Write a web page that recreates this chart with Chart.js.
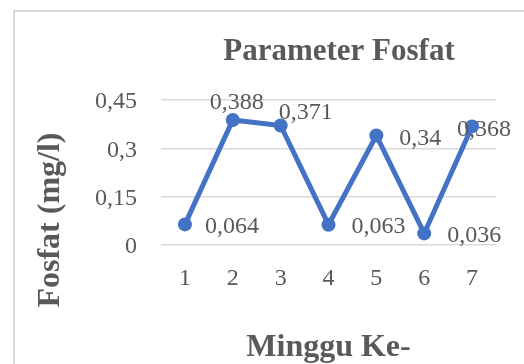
<!DOCTYPE html>
<html>
<head>
<meta charset="utf-8">
<script src="https://cdn.jsdelivr.net/npm/chart.js@4/dist/chart.umd.min.js"></script>
<style>
  html, body { margin: 0; padding: 0; background: #fff; overflow: hidden; }
  #wrap { width: 524px; height: 364px; position: relative; }
</style>
</head>
<body>
<div id="wrap"><canvas id="c" width="524" height="364"></canvas></div>
<script>
// Weekly phosphate readings (mg/l)
const weeks = ['1', '2', '3', '4', '5', '6', '7'];
const phosphate = [0.064, 0.388, 0.371, 0.063, 0.34, 0.036, 0.368];
const yTicks = [0, 0.15, 0.3, 0.45];
const chartTitle = 'Parameter Fosfat';
const xTitle = 'Minggu Ke-';
const yTitle = 'Fosfat (mg/l)';

// Value label placement around each point: [dx to text left edge, dy to text middle]
const labelShift = [[20, 2], [-23, -17], [-2, -13], [23, 2], [23, 3], [23, 2], [-15, 3]];

const TEXT = '#595959';
const SERIF = '"Liberation Serif", "Times New Roman", serif';
const fmt = v => String(Number(v.toFixed(3))).replace('.', ',');

const decor = {
  id: 'decor',
  beforeDraw(chart) {
    const ctx = chart.ctx;
    ctx.save();
    ctx.fillStyle = '#fff';
    ctx.fillRect(0, 0, chart.width, chart.height);
    ctx.strokeStyle = '#d9d9d9';
    ctx.lineWidth = 2;
    ctx.strokeRect(14, 11, 600, 500);
    ctx.restore();
  },
  afterDatasetsDraw(chart) {
    const ctx = chart.ctx;
    const pts = chart.getDatasetMeta(0).data;
    ctx.save();
    ctx.fillStyle = TEXT;
    ctx.font = '24px ' + SERIF;
    ctx.textAlign = 'left';
    ctx.textBaseline = 'middle';
    pts.forEach((p, i) => {
      const [dx, dy] = labelShift[i];
      ctx.fillText(fmt(phosphate[i]), p.x + dx, p.y + dy);
    });
    ctx.restore();
  },
  afterDraw(chart) {
    const ctx = chart.ctx;
    const area = chart.chartArea;
    ctx.save();
    ctx.fillStyle = TEXT;
    ctx.textAlign = 'center';
    ctx.textBaseline = 'middle';
    ctx.font = 'bold 31px ' + SERIF;
    ctx.fillText(chartTitle, 339, 52);
    ctx.font = 'bold 32px ' + SERIF;
    ctx.fillText(xTitle, (area.left + area.right) / 2, 348);
    ctx.translate(51, 220);
    ctx.rotate(-Math.PI / 2);
    ctx.fillText(yTitle, 0, 0);
    ctx.restore();
  }
};

new Chart(document.getElementById('c'), {
  type: 'line',
  data: {
    labels: weeks,
    datasets: [{
      data: phosphate,
      borderColor: '#4472C4',
      backgroundColor: '#4472C4',
      borderWidth: 5,
      pointRadius: 7,
      pointHoverRadius: 7,
      pointBorderWidth: 0,
      tension: 0,
      clip: false
    }]
  },
  options: {
    responsive: false,
    animation: false,
    devicePixelRatio: 1,
    layout: { padding: { top: 100, right: 28, left: 0, bottom: 0 } },
    plugins: { legend: { display: false }, tooltip: { enabled: false }, title: { display: false } },
    scales: {
      x: {
        offset: true,
        grid: { display: false },
        border: { display: false },
        ticks: { color: TEXT, font: { family: SERIF, size: 24 }, padding: 11 },
        afterFit(s) { s.height = 119; }
      },
      y: {
        min: 0,
        max: 0.45,
        afterBuildTicks(s) { s.ticks = yTicks.map(v => ({ value: v })); },
        grid: { color: '#d9d9d9', lineWidth: 1.5, drawTicks: false },
        border: { display: false },
        ticks: { color: TEXT, font: { family: SERIF, size: 24 }, padding: 24, labelOffset: 2, callback: v => fmt(v) },
        afterFit(s) { s.width = 161; }
      }
    }
  },
  plugins: [decor]
});
</script>
</body>
</html>
